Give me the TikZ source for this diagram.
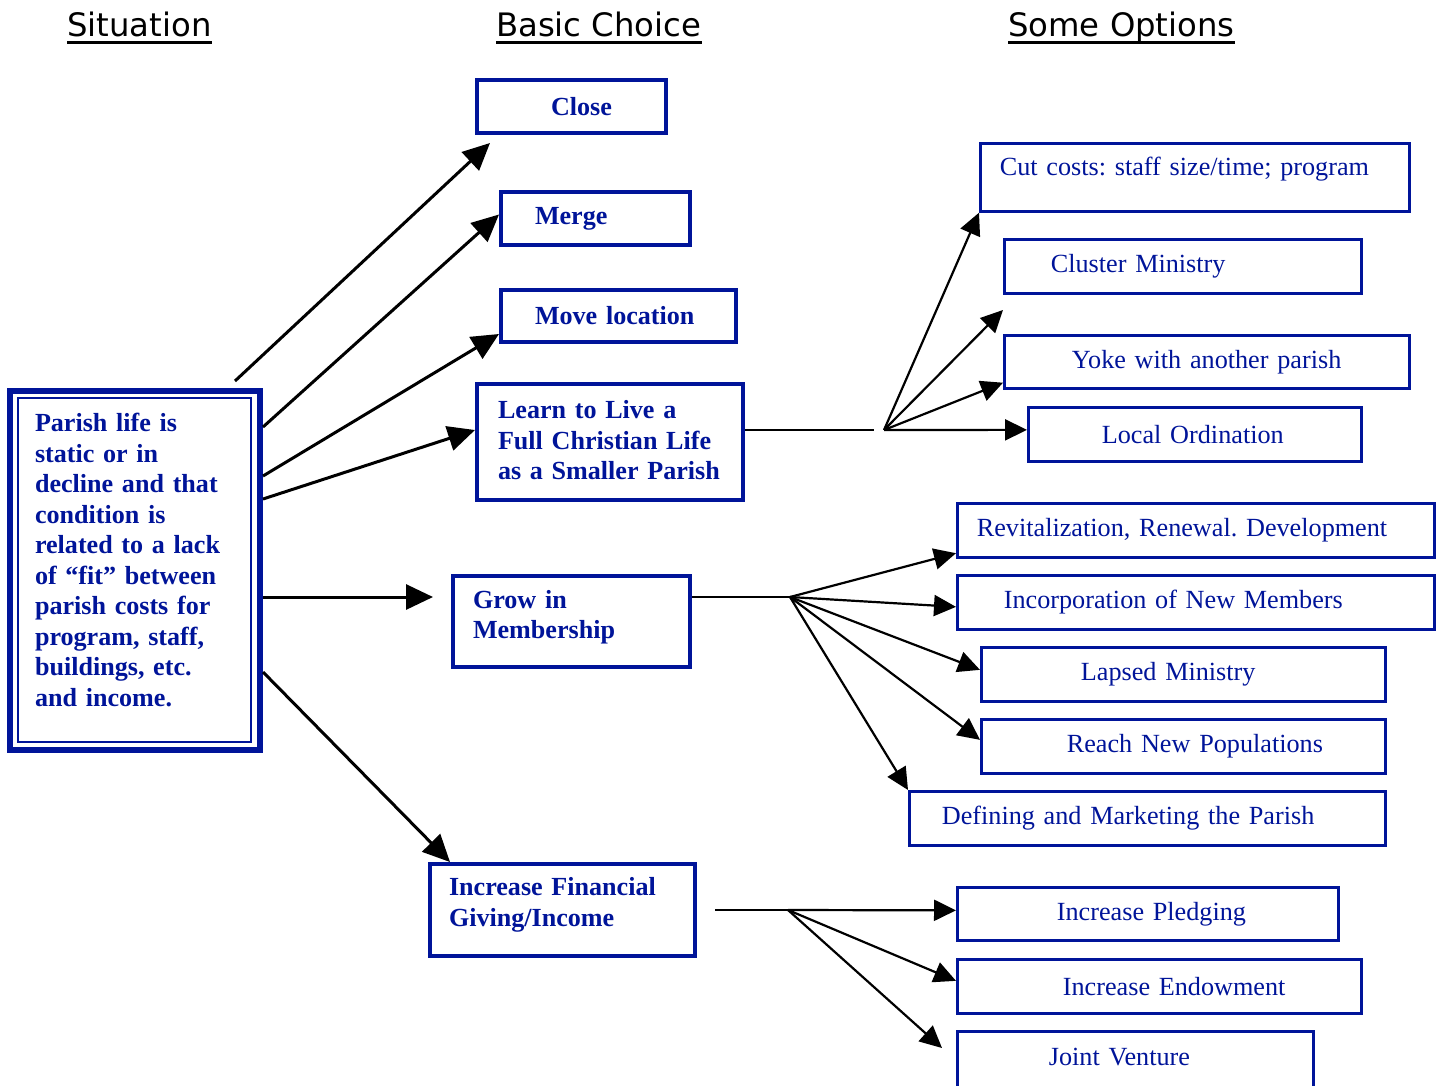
\documentclass[tikz,border=0pt]{standalone}
\usepackage{fontspec}
\setmainfont{Liberation Serif}
\newfontfamily\hfont{DejaVu Sans}
\usetikzlibrary{arrows.meta}
\definecolor{pblue}{RGB}{0,20,153}
\newcommand\upby[1]{\par\nointerlineskip\vskip#1\hbox{}}
\frenchspacing
\begin{document}
\begin{tikzpicture}[x=1pt,y=-1pt,
  bbox/.style={draw=pblue, line width=4pt, text=pblue, font=\frenchspacing\bfseries\fontsize{26.1}{30.5}\selectfont, anchor=north west, inner sep=0pt, align=left},
  rbox/.style={draw=pblue, line width=2.7pt, text=pblue, font=\frenchspacing\fontsize{26.2}{30.5}\selectfont, anchor=north west, inner sep=0pt, align=left},
  head/.style={anchor=base west, inner sep=0pt, font=\hfont\fontsize{32.3}{38}\selectfont},
  uline/.style={line width=3pt},
  bigarr/.style={line width=3pt, -{Triangle[length=27pt,width=25pt]}},
  fanarr/.style={line width=2.2pt, -{Triangle[length=22pt,width=21pt]}},
  fanline/.style={line width=2.2pt},
]
\useasboundingbox (0,0) rectangle (1443,1085);

% headers
\node[head] (h1) at (67,36) {Situation};
\node[head] (h2) at (496,36) {Basic Choice};
\node[head] (h3) at (1008,36) {Some Options};
\draw[uline] ([yshift=-6.3pt]h1.base west) -- ([yshift=-6.3pt]h1.base east);
\draw[uline] ([yshift=-6.3pt]h2.base west) -- ([yshift=-6.3pt]h2.base east);
\draw[uline] ([yshift=-6.3pt]h3.base west) -- ([yshift=-6.3pt]h3.base east);

% situation box
\node[bbox, text width=250pt, minimum height=359.5pt, line width=6pt] (sit) at (7,387.5)
  {\leftskip=25pt\relax Parish life is\\ static or in\\ decline and that\\ condition is\\ related to a lack\\ of “fit” between\\ parish costs for\\ program, staff,\\ buildings, etc.\\ and income.\upby{21pt}};
\draw[pblue, line width=2.5pt] ([xshift=11pt,yshift=-10.5pt]sit.north west) rectangle ([xshift=-12pt,yshift=11pt]sit.south east);

% basic choices
\node[bbox, text width=189pt, minimum height=53pt] (close) at (475,78) {\leftskip=74pt\relax Close\par};
\node[bbox, text width=189pt, minimum height=53pt] (merge) at (499,190) {\leftskip=34pt\relax Merge\par};
\node[bbox, text width=235pt, minimum height=52pt] (move) at (499,288) {\leftskip=34pt\relax Move location\par};
\node[bbox, text width=266pt, minimum height=116pt] (learn) at (475,382) {\leftskip=21pt\relax Learn to Live a\\ Full Christian Life\\ as a Smaller Parish\upby{3pt}};
\node[bbox, text width=237pt, minimum height=91pt] (grow) at (451,574) {\leftskip=20pt\relax Grow in\\ Membership\upby{9pt}};
\node[bbox, text width=265pt, minimum height=92pt] (incr) at (428,862) {\leftskip=19pt\relax Increase Financial\\ Giving/Income\upby{10pt}};

% options
\node[rbox, text width=429pt, minimum height=68pt] (cut) at (979,142) {\leftskip=19.5pt\relax Cut costs: staff size/time; program\upby{17pt}};
\node[rbox, text width=357pt, minimum height=54pt] (cluster) at (1003,238) {\leftskip=46.5pt\relax Cluster Ministry\par};
\node[rbox, text width=405pt, minimum height=53pt] (yoke) at (1003,334) {\leftskip=67.5pt\relax Yoke with another parish\par};
\node[rbox, text width=333pt, minimum height=54pt] (local) at (1027,406) {\leftskip=73.5pt\relax Local Ordination\par};
\node[rbox, text width=477pt, minimum height=54pt] (revit) at (956,502) {\leftskip=19.5pt\relax Revitalization, Renewal. Development\par};
\node[rbox, text width=477pt, minimum height=54pt] (incorp) at (956,574) {\leftskip=46.5pt\relax Incorporation of New Members\par};
\node[rbox, text width=404pt, minimum height=54pt] (lapsed) at (980,646) {\leftskip=99.5pt\relax Lapsed Ministry\par};
\node[rbox, text width=404pt, minimum height=54pt] (reach) at (980,718) {\leftskip=85.5pt\relax Reach New Populations\par};
\node[rbox, text width=476pt, minimum height=54pt] (defin) at (908,790) {\leftskip=32.5pt\relax Defining and Marketing the Parish\par};
\node[rbox, text width=381pt, minimum height=53pt] (pledge) at (956,886) {\leftskip=99.5pt\relax Increase Pledging\par};
\node[rbox, text width=404pt, minimum height=54pt] (endow) at (956,958) {\leftskip=105.5pt\relax Increase Endowment\par};
\node[rbox, text width=356pt, minimum height=56pt] (joint) at (956,1030) {\leftskip=91.5pt\relax Joint Venture\upby{5pt}};

% situation -> basic choices
\draw[bigarr] ([xshift=-28pt,yshift=6.5pt]sit.north east) -- ([xshift=15pt,yshift=-8pt]close.south west);
\draw[bigarr] ([yshift=-39.5pt]sit.north east) -- ([yshift=4pt]merge.west);
\draw[bigarr] ([yshift=-88.5pt]sit.north east) -- ([yshift=10pt]move.south west);
\draw[bigarr] ([yshift=-111.5pt]sit.north east) -- ([yshift=12pt]learn.west);
\draw[bigarr] ([yshift=-209.5pt]sit.north east) -- ([xshift=-18pt,yshift=24.5pt]grow.west);
\draw[bigarr] ([yshift=-284.5pt]sit.north east) -- ([xshift=22pt]incr.north west);

% learn fan
\coordinate (f1) at (884,430);
\coordinate (t2) at (1003,310);
\draw[fanline] ([yshift=12pt]learn.east) -- ([xshift=-10pt]f1);
\draw[fanarr] (f1) -- (cut.south west);
\draw[fanarr] (f1) -- (t2);
\draw[fanarr] (f1) -- ([yshift=7pt]yoke.south west);
\draw[fanarr] (f1) -- ([yshift=4.5pt]local.west);

% grow fan
\coordinate (f2) at (790,597);
\draw[fanline] ([yshift=24.5pt]grow.east) -- (f2);
\draw[fanarr] (f2) -- ([yshift=5.5pt]revit.south west);
\draw[fanarr] (f2) -- ([yshift=-4.5pt]incorp.west);
\draw[fanarr] (f2) -- ([yshift=4.5pt]lapsed.west);
\draw[fanarr] (f2) -- ([yshift=6.5pt]reach.west);
\draw[fanarr] (f2) -- (defin.north west);

% income fan
\coordinate (f3) at (788,910);
\coordinate (t3) at (942,1048);
\draw[fanline] ([xshift=18pt]incr.east) -- (f3);
\draw[fanarr] (f3) -- ([yshift=3.5pt]pledge.west);
\draw[fanarr] (f3) -- ([yshift=5.5pt]endow.west);
\draw[fanarr] (f3) -- (t3);
\end{tikzpicture}
\end{document}
